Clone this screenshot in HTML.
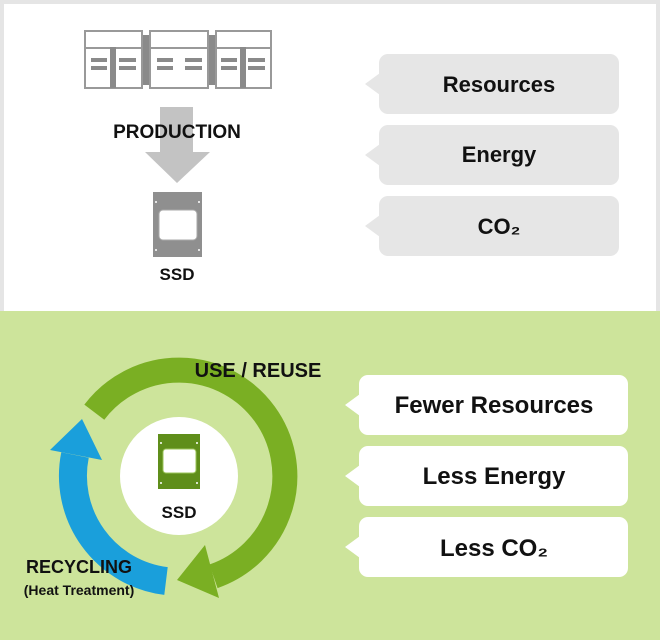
<!DOCTYPE html>
<html><head><meta charset="utf-8"><style>
html,body{margin:0;padding:0;background:#fff}
svg{display:block}
text{font-family:"Liberation Sans",sans-serif;font-weight:bold;fill:#111}
</style></head><body>
<svg width="660" height="640" viewBox="0 0 660 640" xmlns="http://www.w3.org/2000/svg">
<rect x="0" y="0" width="660" height="311" fill="#e5e5e5"/>
<rect x="4" y="4" width="652" height="307" fill="#fff"/>
<rect x="0" y="311" width="660" height="329" fill="#cde49b"/>

<!-- server -->
<g fill="#fff" stroke="#999" stroke-width="2">
<rect x="143" y="35" width="8" height="50" fill="#8a8a8a" stroke="none"/>
<rect x="208" y="35" width="8" height="50" fill="#8a8a8a" stroke="none"/>
<rect x="85" y="31" width="57" height="57"/>
<rect x="150" y="31" width="58" height="57"/>
<rect x="216" y="31" width="55" height="57"/>
<line x1="85" y1="48" x2="142" y2="48"/>
<line x1="150" y1="48" x2="208" y2="48"/>
<line x1="216" y1="48" x2="271" y2="48"/>
</g>
<g fill="#8a8a8a">
<rect x="110" y="47" width="6" height="41"/>
<rect x="240" y="47" width="6" height="41"/>
<rect x="91" y="58" width="16" height="4"/><rect x="91" y="66" width="16" height="4"/>
<rect x="119" y="58" width="17" height="4"/><rect x="119" y="66" width="17" height="4"/>
<rect x="157" y="58" width="16" height="4"/><rect x="157" y="66" width="16" height="4"/>
<rect x="185" y="58" width="17" height="4"/><rect x="185" y="66" width="17" height="4"/>
<rect x="221" y="58" width="16" height="4"/><rect x="221" y="66" width="16" height="4"/>
<rect x="248" y="58" width="17" height="4"/><rect x="248" y="66" width="17" height="4"/>
</g>
<!-- arrow -->
<polygon points="160,107 193,107 193,152 210,152 177,183 145,152 160,152" fill="#c3c3c3"/>
<text x="177" y="138" font-size="19" text-anchor="middle">PRODUCTION</text>
<!-- gray ssd -->
<rect x="153" y="192" width="49" height="65" fill="#8f8f8f"/>
<rect x="159" y="210" width="38" height="30" rx="4" fill="#fff" stroke="#aaa" stroke-width="1"/>
<g fill="#fff"><circle cx="156" cy="202" r="1"/><circle cx="199" cy="202" r="1"/><circle cx="156" cy="250" r="1"/><circle cx="199" cy="250" r="1"/></g>
<text x="177" y="280" font-size="17" text-anchor="middle">SSD</text>

<!-- gray bubbles -->
<g fill="#e6e6e6">
<rect x="379" y="54" width="240" height="60" rx="9"/><polygon points="380,73 365,84 380,95"/>
<rect x="379" y="125" width="240" height="60" rx="9"/><polygon points="380,144 365,155 380,166"/>
<rect x="379" y="196" width="240" height="60" rx="9"/><polygon points="380,215 365,226 380,237"/>
</g>
<text x="499" y="92" font-size="22" text-anchor="middle">Resources</text>
<text x="499" y="162" font-size="22" text-anchor="middle">Energy</text>
<text x="499" y="234" font-size="22" text-anchor="middle">CO₂</text>

<!-- cycle -->
<circle cx="179" cy="476" r="59" fill="#fff"/>
<path d="M94.3,412.2 A106,106 0 1 1 213.5,576.3" fill="none" stroke="#7aaf23" stroke-width="25"/>
<polygon points="205,545 219,598 177,580" fill="#7aaf23"/>
<path d="M166,581 A106,106 0 0 1 75,455" fill="none" stroke="#1a9fdb" stroke-width="28"/>
<polygon points="50,450 82,419 102,460" fill="#1a9fdb"/>
<!-- green ssd -->
<rect x="158" y="434" width="42" height="55" fill="#5f8e1a"/>
<rect x="163" y="449" width="33" height="24" rx="3" fill="#fff" stroke="#9bc45a" stroke-width="1"/>
<g fill="#fff"><circle cx="161" cy="443" r="1"/><circle cx="197" cy="443" r="1"/><circle cx="161" cy="483" r="1"/><circle cx="197" cy="483" r="1"/></g>
<text x="179" y="518" font-size="17" text-anchor="middle">SSD</text>
<text x="258" y="377" font-size="20" text-anchor="middle">USE / REUSE</text>
<text x="79" y="573" font-size="18" text-anchor="middle">RECYCLING</text>
<text x="79" y="595" font-size="14" text-anchor="middle">(Heat Treatment)</text>

<!-- white bubbles -->
<g fill="#fff">
<rect x="359" y="375" width="269" height="60" rx="9"/><polygon points="360,394 345,405 360,416"/>
<rect x="359" y="446" width="269" height="60" rx="9"/><polygon points="360,465 345,476 360,487"/>
<rect x="359" y="517" width="269" height="60" rx="9"/><polygon points="360,536 345,547 360,558"/>
</g>
<text x="494" y="413" font-size="24" text-anchor="middle">Fewer Resources</text>
<text x="494" y="484" font-size="24" text-anchor="middle">Less Energy</text>
<text x="494" y="556" font-size="24" text-anchor="middle">Less CO₂</text>
</svg>
</body></html>
